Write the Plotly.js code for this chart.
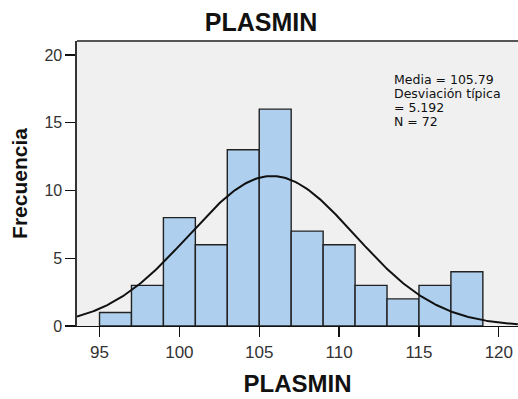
<!DOCTYPE html>
<html><head><meta charset="utf-8">
<script src="https://cdn.plot.ly/plotly-3.0.1.min.js"></script>
<style>html,body{margin:0;padding:0;background:#fff}#c{width:518px;height:399px}</style>
</head><body><div id="c"></div>
<script>
const binCenters = [96, 98, 100, 102, 104, 106, 108, 110, 112, 114, 116, 118];
const frequencies = [1, 3, 8, 6, 13, 16, 7, 6, 3, 2, 3, 4];
const binWidth = 2;
const media = 105.79;
const desviacion = 5.192;
const nTotal = 72;
const xTicks = [95, 100, 105, 110, 115, 120];
const yTicks = [0, 5, 10, 15, 20];
const statLines = ['Media = 105.79', 'Desviación típica', '= 5.192', 'N = 72'];

const xRange = [93.59, 121.2];
const curveX = [], curveY = [];
for (let x = xRange[0]; x <= xRange[1] + 1e-9; x += 0.1) {
  curveX.push(x);
  const z = (x - media) / desviacion;
  curveY.push(nTotal * binWidth * Math.exp(-0.5 * z * z) / (desviacion * Math.sqrt(2 * Math.PI)));
}

const font = 'Liberation Sans, Arial, sans-serif';
const data = [
  {type: 'bar', x: binCenters, y: frequencies, width: binWidth,
   marker: {color: '#aed0ee', line: {color: '#222', width: 1.4}}, hoverinfo: 'skip'},
  {type: 'scatter', mode: 'lines', x: curveX, y: curveY,
   line: {color: '#111', width: 2}, hoverinfo: 'skip'}
];
const statText = statLines.map(t => '<span style="font-size:12.5px">' + t + '</span>').join('<br>');
const layout = {
  width: 518, height: 399,
  margin: {l: 77, r: 0, t: 41, b: 72.5},
  paper_bgcolor: '#fff', plot_bgcolor: '#f0f0f0',
  showlegend: false, bargap: 0,
  font: {family: font, color: '#222', size: 13},
  title: {text: '<b>PLASMIN</b>', font: {family: font, size: 25, color: '#111'},
          x: 0.504, xref: 'container', xanchor: 'center', y: 1 - 22.5 / 399, yref: 'container', yanchor: 'middle'},
  xaxis: {range: xRange, tickvals: xTicks, ticks: 'outside', ticklen: 10, tickwidth: 1.3,
          tickcolor: '#111', showline: true, linecolor: '#111', linewidth: 1.4,
          showgrid: false, zeroline: false, tickfont: {size: 17, color: '#333'},
          title: {text: '<b>PLASMIN</b>', font: {size: 24, color: '#111'}, standoff: 14}},
  yaxis: {range: [0, 21.03], tickvals: yTicks, ticks: 'outside', ticklen: 10, tickwidth: 1.3,
          tickcolor: '#111', showline: true, linecolor: '#333', linewidth: 1.6,
          showgrid: false, zeroline: false, tickfont: {size: 16, color: '#333'},
          title: {text: '<b>Frecuencia</b>', font: {size: 21, color: '#111'}, standoff: 11}},
  shapes: [{type: 'line', xref: 'paper', yref: 'paper', x0: 0, x1: 1, y0: 1, y1: 1,
            line: {color: '#555', width: 2}}],
  annotations: [{xref: 'paper', yref: 'paper', x: (392 - 77) / 441, y: 1 - (70 - 41) / 285.5,
                 xanchor: 'left', yanchor: 'top', align: 'left', showarrow: false,
                 text: statText, font: {family: 'DejaVu Sans, sans-serif', size: 10.8, color: '#111'}}]
};
Plotly.newPlot('c', data, layout, {staticPlot: true});
</script></body></html>
